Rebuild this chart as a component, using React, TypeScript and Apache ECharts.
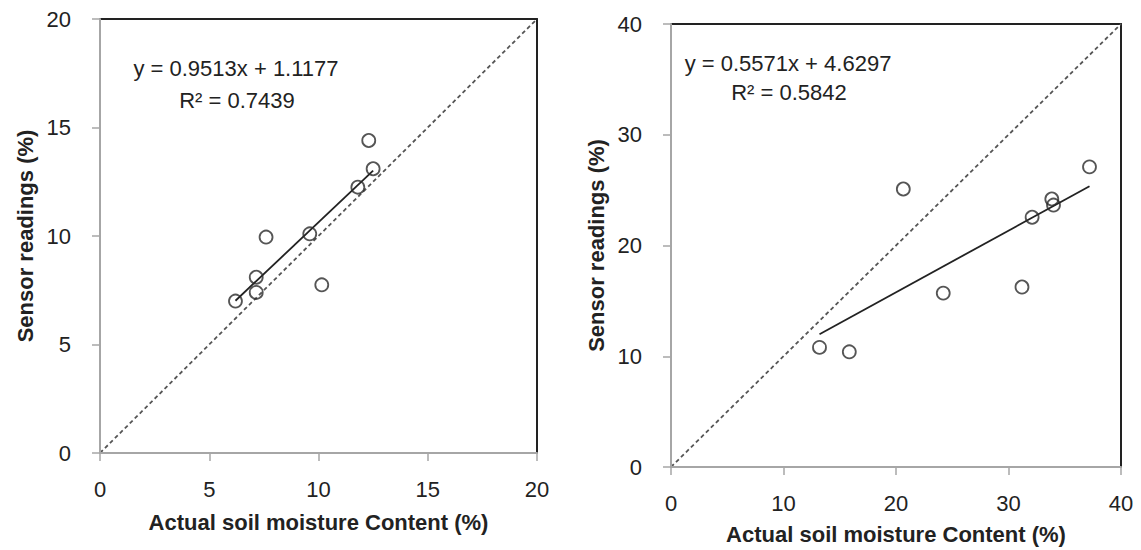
import React, { useEffect, useRef } from "react";
import * as echarts from "echarts";

// Left panel data
const leftActual = [6.2, 7.15, 7.15, 7.6, 9.6, 10.15, 11.8, 12.3, 12.5];
const leftSensor = [7.0, 8.1, 7.4, 9.95, 10.1, 7.75, 12.25, 14.4, 13.1];
const leftSlope = 0.9513;
const leftIntercept = 1.1177;
const leftEquation = "y = 0.9513x + 1.1177";
const leftR2 = "R² = 0.7439";
const leftMax = 20;
const leftInterval = 5;

// Right panel data
const rightActual = [13.2, 15.85, 20.65, 24.2, 31.2, 32.1, 33.85, 34.0, 37.2];
const rightSensor = [10.8, 10.4, 25.1, 15.7, 16.25, 22.55, 24.2, 23.65, 27.1];
const rightSlope = 0.5571;
const rightIntercept = 4.6297;
const rightEquation = "y = 0.5571x + 4.6297";
const rightR2 = "R² = 0.5842";
const rightMax = 40;
const rightInterval = 10;

const xTitle = "Actual soil moisture Content (%)";
const yTitle = "Sensor readings (%)";

const FONT = "'Liberation Sans', Arial, sans-serif";
const GRAY_AXIS = "#a6a6a6";
const TEXT = "#222222";

function trend(xs: number[], slope: number, intercept: number) {
  const lo = Math.min(...xs);
  const hi = Math.max(...xs);
  return [
    [lo, slope * lo + intercept],
    [hi, slope * hi + intercept],
  ];
}

export default function App() {
  const ref = useRef<HTMLDivElement>(null);

  useEffect(() => {
    if (!ref.current) return;
    const chart = echarts.init(ref.current, null, { renderer: "svg" });

    const mainX = (gridIndex: number, max: number, interval: number, nameGap: number) => ({
      type: "value",
      gridIndex,
      min: 0,
      max,
      interval,
      position: "bottom",
      name: xTitle,
      nameLocation: "middle",
      nameGap,
      nameTextStyle: { fontFamily: FONT, fontSize: 22, fontWeight: "bold", color: TEXT },
      axisLine: { show: true, onZero: false, lineStyle: { color: GRAY_AXIS, width: 2 } },
      axisTick: { show: true, inside: false, length: 8, lineStyle: { color: GRAY_AXIS, width: 1.5 } },
      axisLabel: { margin: 25, fontFamily: FONT, fontSize: 22, color: TEXT },
      splitLine: { show: false },
      z: 3,
    });
    const topX = (gridIndex: number, max: number) => ({
      type: "value",
      gridIndex,
      min: 0,
      max,
      position: "top",
      axisLine: { show: true, onZero: false, lineStyle: { color: "#222", width: 2 } },
      axisTick: { show: false },
      axisLabel: { show: false },
      splitLine: { show: false },
    });
    const mainY = (gridIndex: number, max: number, interval: number, nameGap: number) => ({
      type: "value",
      gridIndex,
      min: 0,
      max,
      interval,
      position: "left",
      name: yTitle,
      nameLocation: "middle",
      nameRotate: 90,
      nameGap,
      nameTextStyle: { fontFamily: FONT, fontSize: 22, fontWeight: "bold", color: TEXT },
      axisLine: { show: true, onZero: false, lineStyle: { color: GRAY_AXIS, width: 2 } },
      axisTick: { show: true, inside: false, length: 8, lineStyle: { color: GRAY_AXIS, width: 1.5 } },
      axisLabel: { margin: 29, fontFamily: FONT, fontSize: 22, color: TEXT },
      splitLine: { show: false },
      z: 3,
    });
    const rightY = (gridIndex: number, max: number) => ({
      type: "value",
      gridIndex,
      min: 0,
      max,
      position: "right",
      axisLine: { show: true, onZero: false, lineStyle: { color: "#222", width: 2 } },
      axisTick: { show: false },
      axisLabel: { show: false },
      splitLine: { show: false },
    });

    const scatter = (xi: number, xs: number[], ys: number[]) => ({
      type: "scatter",
      xAxisIndex: xi,
      yAxisIndex: xi,
      symbol: "circle",
      symbolSize: 13,
      itemStyle: { color: "rgba(255,255,255,0)", borderColor: "#2b2b2b", borderWidth: 1.8 },
      data: xs.map((x, i) => [x, ys[i]]),
      z: 5,
    });
    const diag = (xi: number, max: number) => ({
      type: "line",
      xAxisIndex: xi,
      yAxisIndex: xi,
      showSymbol: false,
      symbol: "none",
      lineStyle: { color: "#555", width: 1.8, type: [4, 3] },
      data: [
        [0, 0],
        [max, max],
      ],
      z: 2,
    });
    const fit = (xi: number, xs: number[], s: number, b: number) => ({
      type: "line",
      xAxisIndex: xi,
      yAxisIndex: xi,
      showSymbol: false,
      symbol: "none",
      lineStyle: { color: "#222", width: 1.8 },
      data: trend(xs, s, b),
      z: 4,
    });

    const eqText = (x: number, y: number, text: string) => ({
      type: "text",
      x,
      y,
      style: {
        text,
        fill: TEXT,
        font: `22px ${FONT}`,
        textAlign: "center",
        textVerticalAlign: "middle",
      },
    });

    chart.setOption({
      animation: false,
      backgroundColor: "#ffffff",
      grid: [
        { left: 100, top: 19, width: 437, height: 434 },
        { left: 671, top: 24, width: 450, height: 443 },
      ],
      xAxis: [
        mainX(0, leftMax, leftInterval, 58),
        mainX(1, rightMax, rightInterval, 56),
        topX(0, leftMax),
        topX(1, rightMax),
      ],
      yAxis: [
        mainY(0, leftMax, leftInterval, 64),
        mainY(1, rightMax, rightInterval, 64),
        rightY(0, leftMax),
        rightY(1, rightMax),
      ],
      series: [
        diag(0, leftMax),
        fit(0, leftActual, leftSlope, leftIntercept),
        scatter(0, leftActual, leftSensor),
        diag(1, rightMax),
        fit(1, rightActual, rightSlope, rightIntercept),
        scatter(1, rightActual, rightSensor),
      ],
      graphic: [
        eqText(236, 68, leftEquation),
        eqText(237, 100, leftR2),
        eqText(788, 63, rightEquation),
        eqText(789, 92, rightR2),
      ],
    });

    return () => chart.dispose();
  }, []);

  return (
    <div
      ref={ref}
      style={{ position: "fixed", left: 0, top: 0, width: 1141, height: 550, background: "#fff" }}
    />
  );
}
